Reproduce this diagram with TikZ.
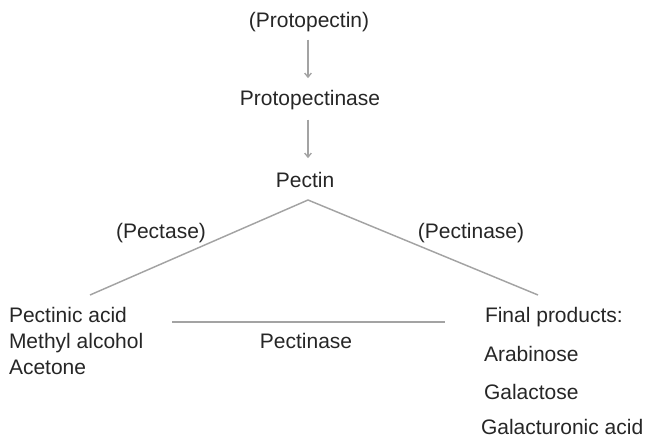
\documentclass[tikz,border=0pt]{standalone}
\usepackage{fontspec}
\setmainfont{Liberation Sans}
\usetikzlibrary{arrows.meta, positioning}
\definecolor{txtgray}{HTML}{262626}
\definecolor{linegray}{HTML}{A3A3A3}

\begin{document}
\begin{tikzpicture}[
    x=0.75pt, y=-0.75pt,
    label/.style={inner sep=0pt, outer sep=0pt, text=txtgray,
    font=\fontsize{15.75}{19}\selectfont},
    arrow/.style={-{Straight Barb[length=3pt, width=5pt]}, draw=linegray, line width=1pt},
    link/.style={draw=linegray, line width=1.1pt}
]
\useasboundingbox (0,0) rectangle (646,438);

% ---------------- TOP CHAIN ----------------
\node[label, anchor=base] (proto) at (309,28) {(Protopectin)};
\node[label, anchor=base] (protase) at (310,106) {Protopectinase};
\node[label, anchor=base] (pectin) at (305,188) {Pectin};

\draw[arrow, shorten <=5.5pt, shorten >=9.5pt]
(proto.south -| 308,0) -- (protase.north -| 308,0);
\draw[arrow, shorten <=7pt, shorten >=11pt]
(protase.south -| 308,0) -- (pectin.north -| 308,0);

% ---------------- BRANCHES ----------------
\coordinate (apex) at (308,200);
\coordinate (leftend) at (90,295);
\coordinate (rightend) at (538,295);
\coordinate (barl) at (172,322);
\coordinate (barr) at (445,322);

\draw[link] (leftend)--(apex)--(rightend);
\draw[link] (barl)--(barr);

\node[label, anchor=base] (pectase) at (161,239) {(Pectase)};
\node[label, anchor=base] (pectinase1) at (471,239) {(Pectinase)};
\node[label, anchor=base] (pectinase2) at (306,348) {Pectinase};

% ---------------- LEFT PRODUCTS ----------------
\node[label, anchor=base west] (pacid) at (9,322) {Pectinic acid};
\node[label, anchor=base west] (methyl) at (9,348) {Methyl alcohol};
\node[label, anchor=base west] (acetone) at (9,374) {Acetone};

% ---------------- FINAL PRODUCTS ----------------
\node[label, anchor=base west] (final) at (485,322) {Final products:};
\node[label, anchor=base west] (arab) at (484,361) {Arabinose};
\node[label, anchor=base west] (galac) at (484,399) {Galactose};
\node[label, anchor=base west] (galur) at (481,434) {Galacturonic acid};

\end{tikzpicture}
\end{document}
